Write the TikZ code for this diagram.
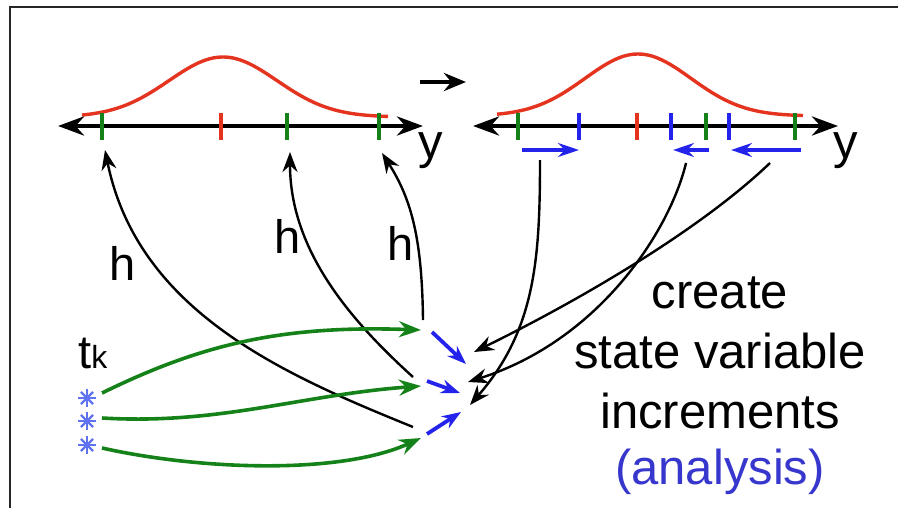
\documentclass[tikz,border=0pt]{standalone}
\usepackage{fontspec}
\setmainfont{Liberation Sans}
\usetikzlibrary{arrows.meta}
\definecolor{cred}{RGB}{228,52,32}
\definecolor{cgreen}{RGB}{20,130,25}
\definecolor{cblue}{RGB}{35,35,235}
\definecolor{cana}{RGB}{55,55,205}
\definecolor{cstar}{RGB}{95,115,240}
\begin{document}
\begin{tikzpicture}[x=0.5pt,y=-0.5pt,
  axisline/.style={line width=2.2pt,{Stealth[length=13pt,width=9.5pt]}-{Stealth[length=13pt,width=9.5pt]}},
  gtick/.style={cgreen,line width=1.7pt},
  rtick/.style={cred,line width=1.7pt},
  btick/.style={cblue,line width=1.7pt},
  gauss/.style={cred,line width=1.7pt},
  harrow/.style={black,line width=1.2pt,-{Stealth[length=10pt,width=7.5pt]}},
  garrow/.style={cgreen,line width=1.8pt,-{Stealth[length=11pt,width=8pt]}},
  barrow/.style={cblue,line width=1.9pt,-{Stealth[length=9.5pt,width=7pt]}},
  incarrow/.style={cblue,line width=1.7pt,-{Stealth[length=10.5pt,width=7pt]}},
  lbl/.style={inner sep=0pt,anchor=base,font=\fontsize{23.5}{27}\selectfont},
  ctext/.style={inner sep=0pt,anchor=base,font=\fontsize{24.5}{29}\selectfont},
  starmark/.style={minimum size=9pt,inner sep=0pt,
    path picture={\foreach \a in {0,45,90,135}{\draw[cstar,line width=1.2pt]
      ([shift={(\a:4.3pt)}]path picture bounding box.center) --
      ([shift={(\a+180:4.3pt)}]path picture bounding box.center);}}}
]
\useasboundingbox (0,0) rectangle (898,508);
% frame edges
\draw[black!85,line width=1.3pt] (10,508) -- (10,7) -- (898,7);

% ---------- left axis ----------
\coordinate (L0) at (58,126);
\coordinate (L1) at (423,126);
\draw[gauss] plot[domain=82:388,samples=90] (\x,{117-60*exp(-((\x-223)/54)^2/2)});
\draw[axisline] (L0) -- (L1);
\draw[gtick] (102,113) -- (102,140);
\draw[gtick] (287,113) -- (287,140);
\draw[gtick] (379,113) -- (379,140);
\draw[rtick] (221,113) -- (221,140);
\node[ctext] (yl) at (431,158) {y};

% ---------- transition arrow ----------
\coordinate (tA) at (420,82);
\coordinate (tB) at (466,82);
\draw[line width=2.2pt,-{Stealth[length=11pt,width=9pt]}] (tA) -- (tB);

% ---------- right axis ----------
\coordinate (R0) at (473,126);
\coordinate (R1) at (838,126);
\draw[gauss] plot[domain=497:803,samples=90] (\x,{116-62*exp(-((\x-638)/53)^2/2)});
\draw[axisline] (R0) -- (R1);
\draw[gtick] (518,113) -- (518,140);
\draw[gtick] (706,113) -- (706,140);
\draw[gtick] (795,113) -- (795,140);
\draw[btick] (579,113) -- (579,140);
\draw[btick] (671,113) -- (671,140);
\draw[btick] (729,113) -- (729,140);
\draw[rtick] (637,113) -- (637,140);
\node[ctext] (yr) at (846,158) {y};

% increments under right axis
\coordinate (i1a) at (522,150); \coordinate (i1b) at (579,150);
\coordinate (i2a) at (709,150); \coordinate (i2b) at (673,150);
\coordinate (i3a) at (801,150); \coordinate (i3b) at (731,150);
\draw[incarrow] (i1a) -- (i1b);
\draw[incarrow] (i2a) -- (i2b);
\draw[incarrow] (i3a) -- (i3b);

% ---------- h arrows ----------
\coordinate (h1s) at (413,427); \coordinate (h1e) at (105,150);
\coordinate (h2s) at (413,377); \coordinate (h2e) at (290,152);
\coordinate (h3s) at (423,320); \coordinate (h3e) at (382,153);
\draw[harrow] (h1s) .. controls (285,375) and (138,312) .. (h1e);
\draw[harrow] (h2s) .. controls (350,320) and (290,250) .. (h2e);
\draw[harrow] (h3s) .. controls (422,240) and (412,200) .. (h3e);
\node[lbl] (hl1) at (123,280) {h};
\node[lbl] (hl2) at (288,253) {h};
\node[lbl] (hl3) at (401,260) {h};

% ---------- observations ----------
\node[lbl,anchor=base west] (tk) at (78,368) {t{\fontsize{16}{18}\selectfont k}};
\node[starmark] (s1) at (87,398) {};
\node[starmark] (s2) at (87,421) {};
\node[starmark] (s3) at (87,445) {};
\coordinate (g1s) at (102,393); \coordinate (g1e) at (421,330);
\coordinate (g2s) at (102,418); \coordinate (g2e) at (421,386);
\coordinate (g3s) at (102,448); \coordinate (g3e) at (421,438);
\draw[garrow] (g1s) .. controls (200,345) and (280,325) .. (g1e);
\draw[garrow] (g2s) .. controls (220,425) and (300,395) .. (g2e);
\draw[garrow] (g3s) .. controls (200,470) and (340,475) .. (g3e);

% blue analysis increments in the middle
\coordinate (b1s) at (432,332); \coordinate (b1e) at (466,364);
\coordinate (b2s) at (427,381); \coordinate (b2e) at (460,393);
\coordinate (b3s) at (427,434); \coordinate (b3e) at (461,412);
\draw[barrow] (b1s) -- (b1e);
\draw[barrow] (b2s) -- (b2e);
\draw[barrow] (b3s) -- (b3e);

% ---------- black arrows from increments ----------
\coordinate (k1s) at (540,160); \coordinate (k1e) at (470,405);
\coordinate (k2s) at (686,163); \coordinate (k2e) at (468,382);
\coordinate (k3s) at (770,163); \coordinate (k3e) at (474,352);
\draw[harrow] (k1s) .. controls (540,260) and (535,330) .. (k1e);
\draw[harrow] (k2s) .. controls (670,230) and (600,340) .. (k2e);
\draw[harrow] (k3s) .. controls (700,230) and (580,300) .. (k3e);

% ---------- caption text ----------
\node[ctext] (c1) at (720,308) {create};
\node[ctext] (c2) at (720,368) {state variable};
\node[ctext] (c3) at (720,428) {increments};
\node[ctext,text=cana] (c4) at (720,484) {(analysis)};
\end{tikzpicture}
\end{document}
